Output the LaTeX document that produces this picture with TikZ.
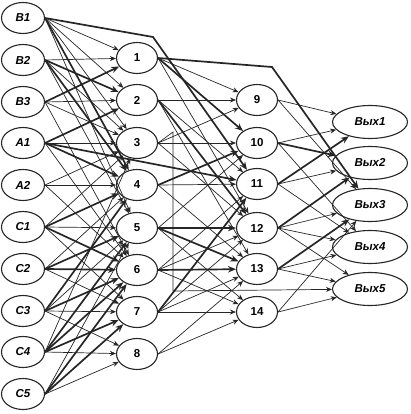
\documentclass[tikz,border=0pt]{standalone}
\usepackage{fontspec}
\setmainfont{Liberation Sans}
\usetikzlibrary{arrows.meta, shapes.geometric}
\definecolor{ink}{HTML}{262626}

\tikzset{
  inbox/.style={draw=ink, ellipse, line width=1.1pt, minimum width=43pt, minimum height=31pt, inner sep=0pt, font=\fontsize{11.5}{12}\selectfont\bfseries\itshape},
  midbox/.style={draw=ink, ellipse, line width=1.1pt, minimum width=41pt, minimum height=31pt, inner sep=0pt, font=\fontsize{11.5}{12}\selectfont\bfseries},
  outbox/.style={draw=ink, ellipse, line width=1.1pt, minimum width=75pt, minimum height=33pt, inner sep=0pt, font=\fontsize{11.5}{12}\selectfont\bfseries\itshape},
  thinarr/.style={draw=ink, line width=0.7pt, -{Stealth[length=6pt, width=5pt]}},
  thickarr/.style={draw=ink, line width=1.7pt, -{Stealth[length=8pt, width=6.5pt]}}
}

\begin{document}
\begin{tikzpicture}[x=1pt, y=-1pt]
  \useasboundingbox (0,0) rectangle (410,414);

  % inputs
  \node[inbox] (b1) at (23,18) {B1};
  \node[inbox] (b2) at (23,60) {B2};
  \node[inbox] (b3) at (23,102) {B3};
  \node[inbox] (a1) at (23,143) {A1};
  \node[inbox] (a2) at (23,185) {A2};
  \node[inbox] (c1) at (23,227) {C1};
  \node[inbox] (c2) at (23,269) {C2};
  \node[inbox] (c3) at (23,311) {C3};
  \node[inbox] (c4) at (23,352) {C4};
  \node[inbox] (c5) at (23,394) {C5};

  % first hidden layer
  \node[midbox] (n1) at (137,58) {1};
  \node[midbox] (n2) at (137,100) {2};
  \node[midbox] (n3) at (137,143) {3};
  \node[midbox] (n4) at (137,185) {4};
  \node[midbox] (n5) at (137,228) {5};
  \node[midbox] (n6) at (137,270) {6};
  \node[midbox] (n7) at (137,312) {7};
  \node[midbox] (n8) at (137,354) {8};

  % second hidden layer
  \node[midbox] (n9) at (257,100) {9};
  \node[midbox] (n10) at (257,143) {10};
  \node[midbox] (n11) at (257,184) {11};
  \node[midbox] (n12) at (257,228) {12};
  \node[midbox] (n13) at (257,269) {13};
  \node[midbox] (n14) at (257,312) {14};

  % outputs
  \node[outbox] (out1) at (370,122) {Вых1};
  \node[outbox] (out2) at (370,163) {Вых2};
  \node[outbox] (out3) at (370,205) {Вых3};
  \node[outbox] (out4) at (370,247) {Вых4};
  \node[outbox] (out5) at (370,289) {Вых5};

  % bends
  \coordinate (k1) at (153,37);
  \coordinate (k2) at (272,67);
  \coordinate (k3) at (173,132);
  \coordinate (k4) at (173,291);

  % inputs -> first hidden layer
  \foreach \s/\t in {b1/n1, b1/n2, b1/n3, b1/n5, b2/n1, b2/n3, b2/n5, b3/n2, b3/n3, b3/n6,
                     a1/n3, a1/n6, a2/n3, a2/n4, a2/n6, c1/n3, c1/n5, c1/n7, c2/n4, c2/n7,
                     c3/n5, c3/n7, c3/n8, c4/n3, c4/n8, c5/n5, c5/n8}
    \draw[thinarr] (\s.east) -- (\t);
  \foreach \s/\t in {b1/n4, b2/n2, b2/n4, b3/n1, a1/n2, a1/n4, a1/n11, c1/n4, c1/n6, c2/n5,
                     c2/n6, c3/n4, c3/n6, c4/n5, c4/n6, c4/n7, c5/n6, c5/n7}
    \draw[thickarr] (\s.east) -- (\t);

  % first -> second hidden layer
  \foreach \s/\t in {n1/n9, n1/n12, n2/n9, n2/n11, n2/n13, n3/n9, n3/n10, n3/n12, n4/n11,
                     n4/n13, n5/n10, n5/n14, n6/n11, n6/n12, n6/n14, n7/n12, n7/n13, n7/n14,
                     n8/n13, n8/n14}
    \draw[thinarr] (\s.east) -- (\t);
  \foreach \s/\t in {n1/n10, n2/n12, n4/n10, n5/n12, n5/n13, n6/n13, n7/n11}
    \draw[thickarr] (\s.east) -- (\t);

  % second hidden layer -> outputs
  \foreach \s/\t in {n9/out1, n9/out3, n10/out1, n10/out4, n11/out2, n11/out4, n12/out3,
                     n12/out4, n12/out5, n13/out4, n13/out5, n14/out3, n14/out5}
    \draw[thinarr] (\s.east) -- (\t);
  \foreach \s/\t in {n10/out2, n11/out1, n12/out2, n13/out3}
    \draw[thickarr] (\s.east) -- (\t);

  % bypass lines
  \draw[thickarr] (b1.east) -- (k1) -- (n11);
  \draw[thickarr] (n1.east) -- (k2) -- (out3);
  \draw[thinarr] (n3.east) -- (k3) -- (k4) -- (out5);
\end{tikzpicture}
\end{document}
